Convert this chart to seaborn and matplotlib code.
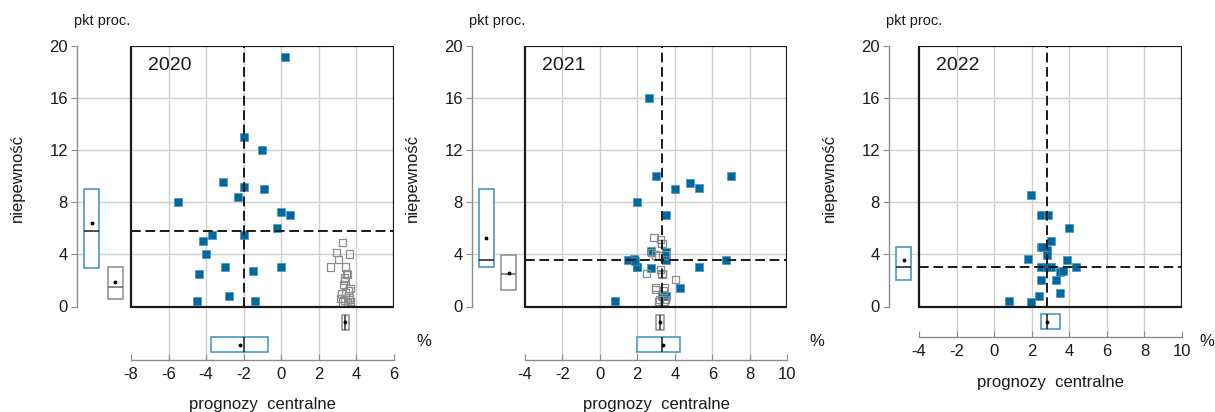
import matplotlib
matplotlib.use("Agg")
import matplotlib.pyplot as plt
from matplotlib.patches import Rectangle
import seaborn as sns
import numpy as np

W, H = 1215, 412
BLUE = "#00689c"
BLUE_EDGE = "#4a93c2"
BLUE_BOX = "#3b8fc2"
GREY = "#8c8c8c"
GRID = "#d0d0d0"
TEXT = "#1a1a1a"

YEARS = ["2020", "2021", "2022"]

# central forecast (x, %) and uncertainty (y, pp) - current round (filled)
x2020 = [0.21, -2.0, -1.0, -3.11, -2.0, -0.89, -2.29, -5.48, 0.0, 0.5, -0.2,
         -3.68, -2.0, -4.18, -3.98, -3.0, 0.0, -1.5, -4.38, -2.79, -4.48, -1.39]
y2020 = [19.15, 13.0, 12.0, 9.51, 9.18, 8.98, 8.41, 8.0, 7.24, 7.0, 6.04,
         5.52, 5.52, 5.04, 4.0, 3.02, 3.02, 2.74, 2.5, 0.84, 0.43, 0.43]
# previous round (hollow)
x2020_prev = [3.26, 2.95, 3.64, 3.05, 2.64, 3.44, 3.50, 3.55, 3.37, 3.40, 3.32,
              3.67, 3.60, 3.45, 3.23, 3.62, 3.19, 3.64, 3.41, 3.70, 3.30, 3.55]
y2020_prev = [4.89, 4.16, 4.03, 3.62, 3.03, 3.03, 2.49, 2.45, 2.19, 2.0, 1.67,
              1.37, 1.25, 1.1, 1.0, 0.7, 0.62, 0.55, 0.5, 0.4, 0.35, 0.3]

x2021 = [2.61, 3.0, 7.02, 4.8, 5.3, 4.02, 2.0, 3.52, 2.75, 3.52, 3.52, 1.82,
         1.5, 2.0, 2.71, 5.3, 6.71, 4.3, 0.8, 3.3, 3.55, 2.0, 1.9]
y2021 = [16.0, 10.0, 10.0, 9.5, 9.1, 8.98, 8.0, 7.0, 4.25, 4.2, 3.53, 3.66,
         3.53, 3.02, 2.94, 3.02, 3.53, 1.43, 0.41, 0.84, 0.84, 3.0, 3.5]
x2021_prev = [3.14, 3.43, 3.52, 3.2, 3.38, 2.98, 2.98, 3.46, 4.02, 3.32, 2.48,
              3.32, 3.23, 3.14, 2.98, 3.52, 2.75, 3.32, 3.23, 2.89]
y2021_prev = [0.38, 0.38, 0.51, 0.56, 1.25, 1.3, 1.43, 1.43, 2.05, 2.45, 2.51,
              2.56, 2.86, 3.9, 3.95, 3.95, 4.14, 4.81, 5.12, 5.32]

x2022 = [1.98, 2.48, 2.89, 4.0, 3.0, 2.48, 2.79, 2.79, 1.79, 3.88, 2.48, 3.0,
         4.38, 3.48, 3.68, 2.48, 3.29, 3.48, 2.39, 0.79, 1.98, 2.55, 2.79]
y2022 = [8.52, 7.0, 7.0, 6.01, 5.01, 4.53, 4.35, 3.96, 3.63, 3.53, 3.02, 3.02,
         3.02, 2.63, 2.74, 2.05, 2.05, 1.02, 0.84, 0.43, 0.36, 4.53, 3.02]
x2022_prev = []
y2022_prev = []

X_RANGES = [(-8, 6), (-4, 10), (-4, 10)]
Y_RANGE = (0, 20)

# layout in pixels: y-axis x, frame left, frame right, x-axis y, "%" left
LAYOUT = [(77, 131, 393.7, 360, 416), (472, 524.7, 787.3, 360, 809),
          (889, 919, 1182, 337, 1199)]
FRAME_TOP, FRAME_BOT = 45.7, 306.5

sns.set_theme(style="white")
plt.rcParams["font.family"] = ["Liberation Sans", "DejaVu Sans"]
plt.rcParams["axes.unicode_minus"] = False


def px(x, y):
    return x / W, 1 - y / H


def box_stats(vals):
    q1, med, q3 = np.percentile(vals, [25, 50, 75], method="weibull")
    return dict(med=med, q1=q1, q3=q3, whislo=q1, whishi=q3,
                mean=np.mean(vals), fliers=[])


def draw_box(ax, vals, pos, width, color, orient, median_color):
    ax.bxp([box_stats(vals)], positions=[pos], widths=width, orientation=orient,
           showmeans=True, showcaps=False, showfliers=False, patch_artist=True,
           manage_ticks=False,
           boxprops=dict(facecolor="white", edgecolor=color, linewidth=1.1),
           medianprops=dict(color=median_color, linewidth=1.1),
           whiskerprops=dict(linewidth=0),
           meanprops=dict(marker="o", markersize=1.8, markerfacecolor="black",
                          markeredgecolor="black"),
           zorder=3)


fig = plt.figure(figsize=(W / 100, H / 100), dpi=100)

data = [(x2020, y2020, x2020_prev, y2020_prev),
        (x2021, y2021, x2021_prev, y2021_prev),
        (x2022, y2022, x2022_prev, y2022_prev)]

for year, (x, y, xp, yp), (x0, x1), (axx, fl, fr, axy, pct) in zip(YEARS, data, X_RANGES, LAYOUT):
    ax = fig.add_axes([axx / W, 1 - axy / H, (fr - axx) / W, (axy - FRAME_TOP) / H])
    ppx = (fr - fl) / (x1 - x0)
    ppy = (FRAME_BOT - FRAME_TOP) / (Y_RANGE[1] - Y_RANGE[0])
    xlo = x0 - (fl - axx) / ppx
    ylo = Y_RANGE[0] - (axy - FRAME_BOT) / ppy
    ax.set_xlim(xlo, x1)
    ax.set_ylim(ylo, Y_RANGE[1])

    ax.set_xticks(np.arange(x0, x1 + 1, 2))
    ax.set_yticks(np.arange(0, 21, 4))
    ax.grid(True, color=GRID, linewidth=1.0)
    ax.set_axisbelow(True)
    for gl in (ax.get_xgridlines(), ax.get_ygridlines()):
        gl[0].set_visible(False)
        gl[-1].set_visible(False)

    for s in ("top", "right"):
        ax.spines[s].set_visible(False)
    ax.spines["left"].set_bounds(*Y_RANGE)
    ax.spines["bottom"].set_bounds(x0, x1)
    for s in ("left", "bottom"):
        ax.spines[s].set_color(GREY)
        ax.spines[s].set_linewidth(1.0)
    ax.tick_params(axis="y", direction="out", length=4, width=0.8, color=GREY,
                   pad=2.5, labelsize=12, labelcolor=TEXT, left=True)
    ax.tick_params(axis="x", direction="in", length=4, width=0.8, color=GREY,
                   pad=5, labelsize=12, labelcolor=TEXT, bottom=True)

    # points
    sns.scatterplot(x=x, y=y, marker="s", s=38, color=BLUE, edgecolor=BLUE_EDGE,
                    linewidth=0.5, ax=ax, zorder=4, legend=False)
    if xp:
        sns.scatterplot(x=xp, y=yp, marker="s", s=27, facecolor="none",
                        edgecolor=GREY, linewidth=0.9, ax=ax, zorder=5, legend=False)

    # medians
    mx, my = np.median(x), np.median(y)
    ax.vlines(mx, *Y_RANGE, colors=TEXT, linestyles=(0, (5, 2.4)), linewidth=1.4, zorder=6)
    ax.hlines(my, x0, x1, colors=TEXT, linestyles=(0, (5, 2.4)), linewidth=1.4, zorder=6)

    # frame of the scatter area
    ax.add_patch(Rectangle((x0, Y_RANGE[0]), x1 - x0, Y_RANGE[1] - Y_RANGE[0],
                           fill=False, edgecolor=TEXT, linewidth=1.6, zorder=7))

    # marginal boxes: current round next to the axis, previous round next to frame
    bw_x, bw_y = 15 / ppx, 15 / ppy
    draw_box(ax, y, xlo + 14.5 / ppx, bw_x, BLUE_BOX, "vertical", TEXT)
    draw_box(ax, x, ylo + 15.5 / ppy, bw_y, BLUE_BOX, "horizontal", TEXT)
    if xp:
        draw_box(ax, yp, x0 - 16 / ppx, bw_x, GREY, "vertical", "#666666")
        draw_box(ax, xp, Y_RANGE[0] - 15.5 / ppy, bw_y, GREY, "horizontal", "#333333")

    # texts
    fig.text(*px(fl + 17, 66), year, fontsize=14, color=TEXT, va="center", ha="left")
    fig.text(*px(axx - 3, 21), "pkt proc.", fontsize=10.5, color=TEXT, va="center", ha="left")
    fig.text(*px(axx - 60, 178), "niepewność", fontsize=12, color=TEXT,
             rotation=90, va="center", ha="center")
    fig.text(*px((fl + fr) / 2, axy + 45), "prognozy  centralne", fontsize=12,
             color=TEXT, va="center", ha="center")
    fig.text(*px(pct, 341.5), "%", fontsize=12, color=TEXT, va="center", ha="left")

fig.savefig("out.png", dpi=100)
